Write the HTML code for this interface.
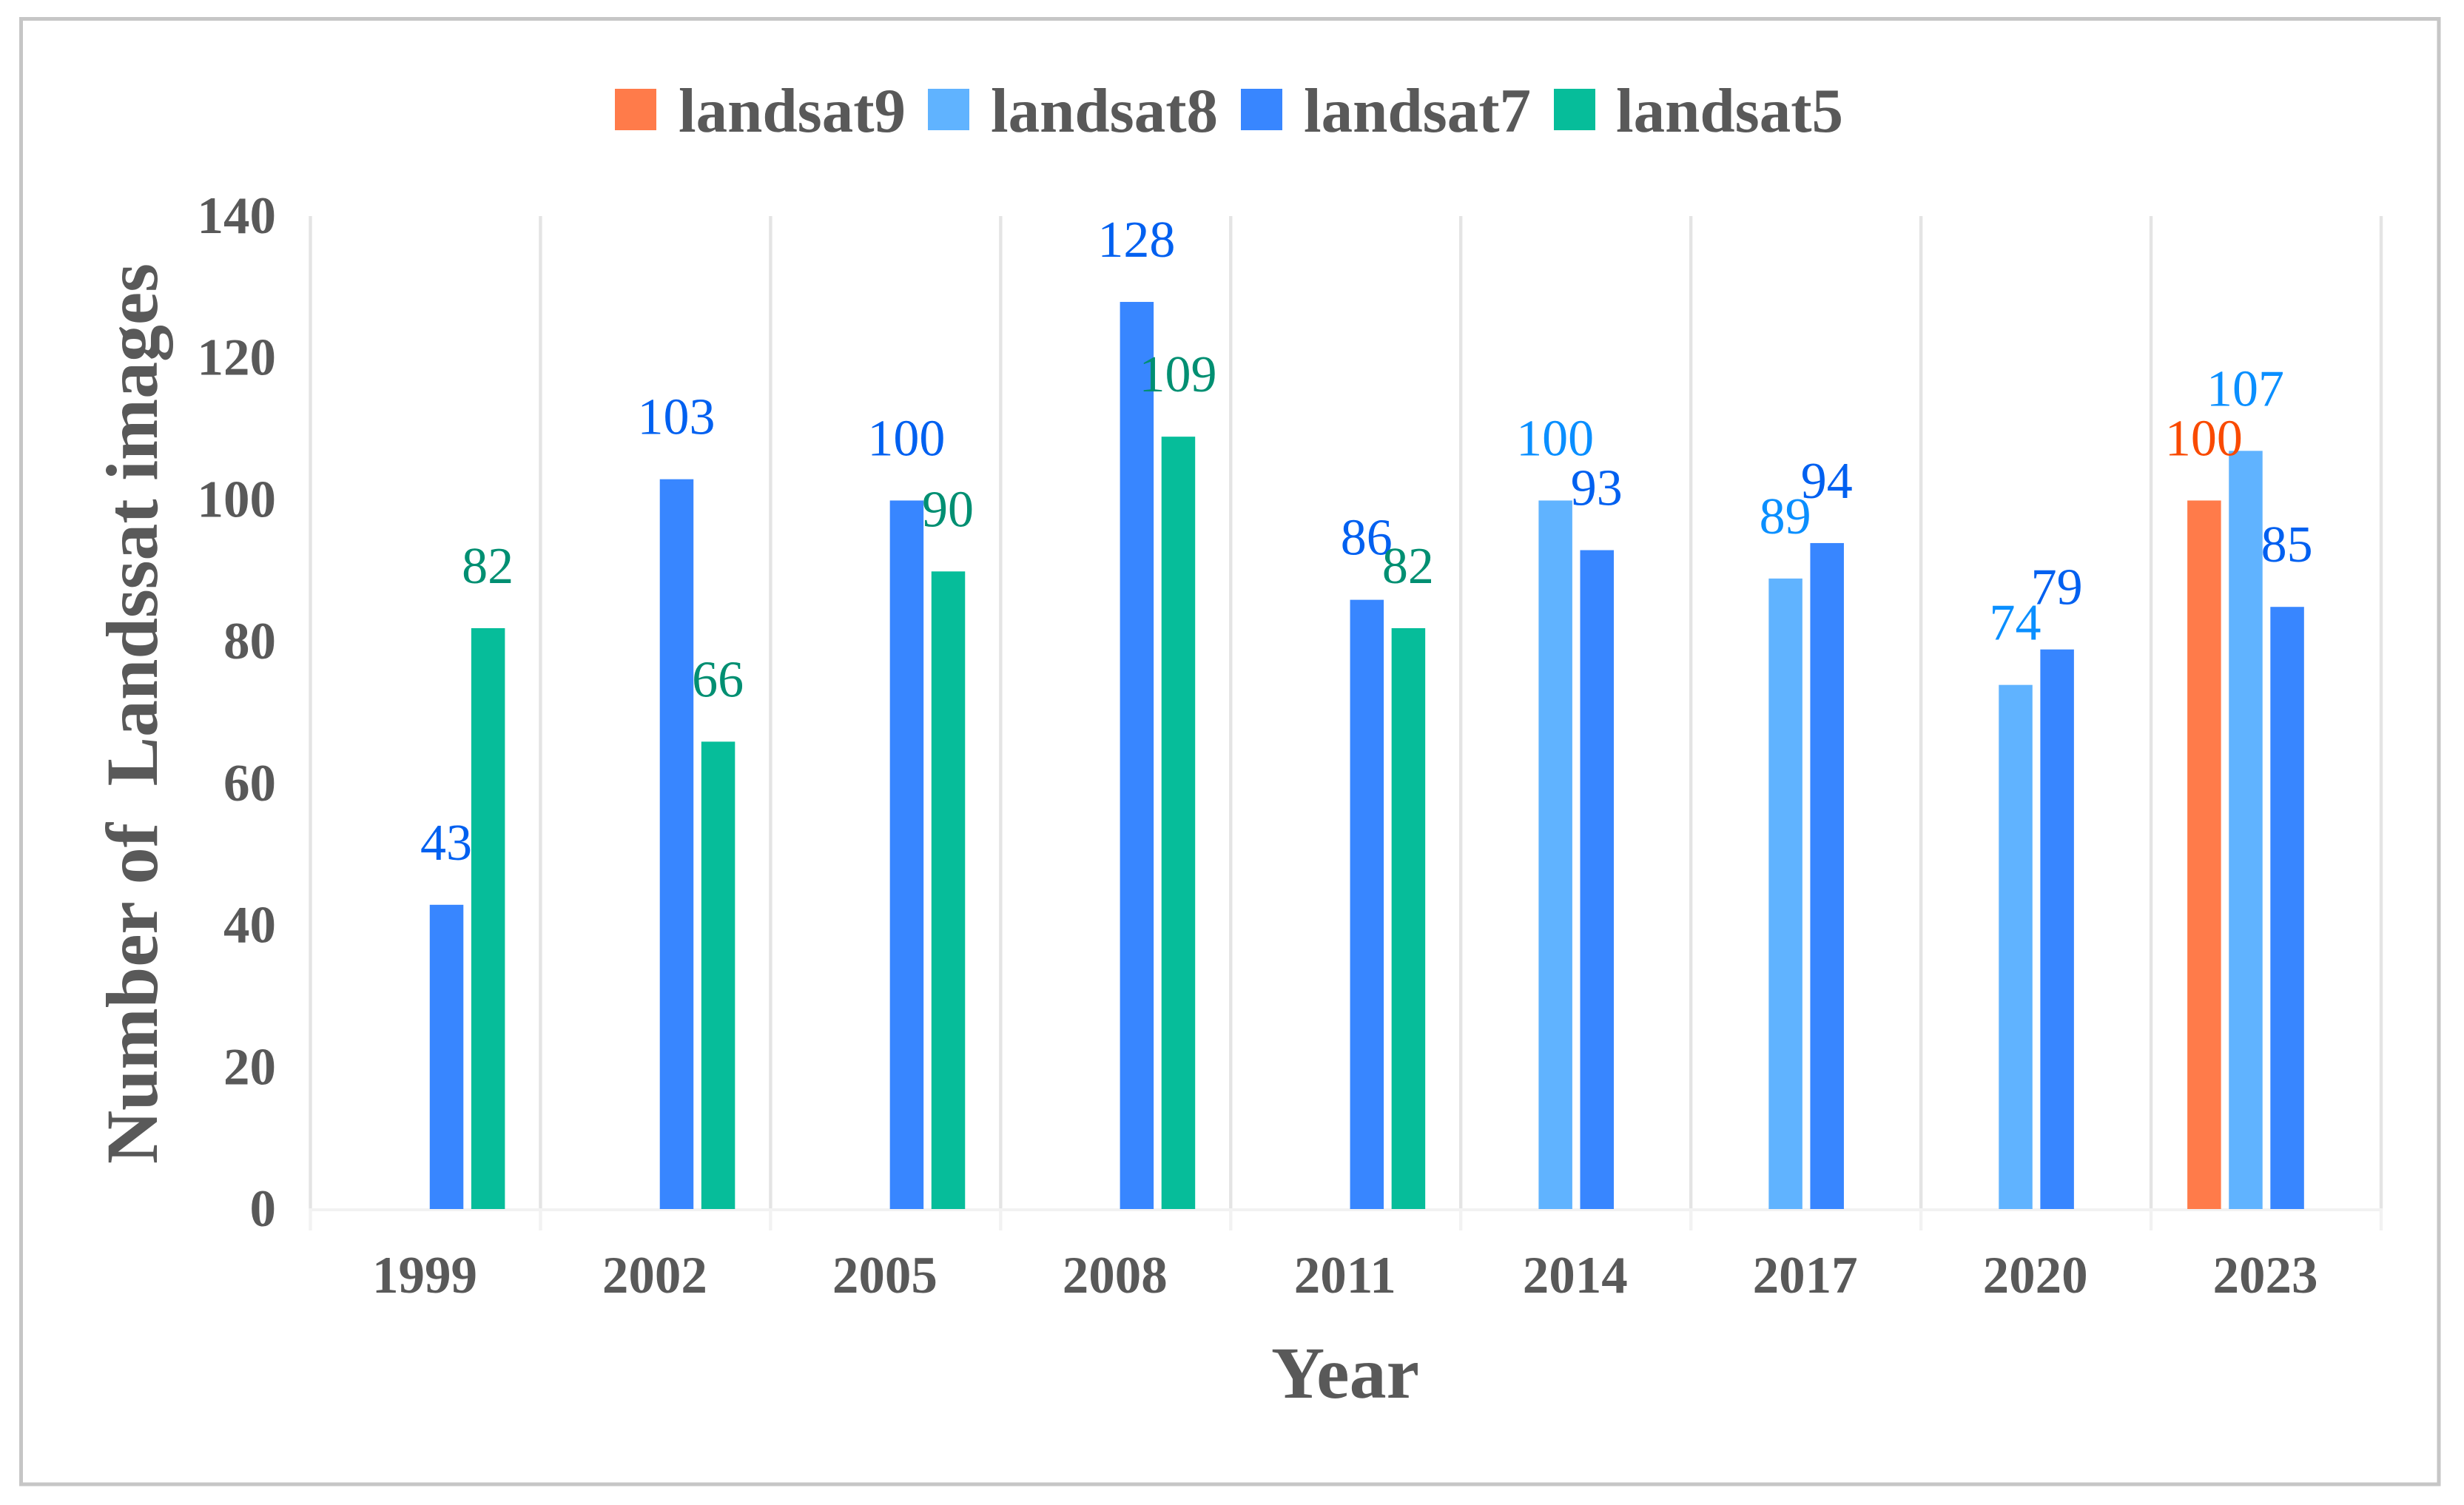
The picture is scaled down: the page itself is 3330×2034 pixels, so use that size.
<!DOCTYPE html>
<html lang="en">
<head>
<meta charset="utf-8">
<title>Number of Landsat images by year</title>
<style>
html,body{margin:0;padding:0;background:#fff;width:3330px;height:2034px;overflow:hidden}
svg{display:block}
text{font-family:"Liberation Serif",serif}
.tick{font-size:71px;font-weight:bold;fill:#595959}
.legend-text{font-size:85px;font-weight:bold;fill:#595959}
.title{font-size:100px;font-weight:bold;fill:#595959}
.value{font-size:70px}
</style>
</head>
<body>
<svg id="chart" xmlns="http://www.w3.org/2000/svg" width="3330" height="2034" viewBox="0 0 3330 2034">
  <rect x="28.5" y="25.5" width="3267.5" height="1980.5" fill="#fff" stroke="#c6c6c6" stroke-width="5"/>
  <g id="grid"></g>
  <g id="yticks"></g>
  <g id="xticks"></g>
  <g id="bars"></g>
  <g id="values"></g>
  <g>
    <rect x="831" y="120" width="56" height="56" fill="#ff7b4a"/>
    <text class="legend-text" x="917" y="178">landsat9</text>
    <rect x="1254" y="120" width="56" height="56" fill="#60b3ff"/>
    <text class="legend-text" x="1339" y="178">landsat8</text>
    <rect x="1677" y="120" width="56" height="56" fill="#3886ff"/>
    <text class="legend-text" x="1762" y="178">landsat7</text>
    <rect x="2100" y="120" width="56" height="56" fill="#06bd9a"/>
    <text class="legend-text" x="2184" y="178">landsat5</text>
  </g>
  <text class="title" xml:space="preserve" style="white-space:pre" transform="translate(212,1573) rotate(-90)" x="0" y="0" textLength="1217" lengthAdjust="spacing">Number of  Landssat images</text>
  <text class="title" x="1818" y="1889" text-anchor="middle">Year</text>
</svg>
<script>
const categories = ['1999','2002','2005','2008','2011','2014','2017','2020','2023'];
const landsat9 = [null,null,null,null,null,null,null,null,100];
const landsat8 = [null,null,null,null,null,100,89,74,107];
const landsat7 = [43,103,100,128,86,93,94,79,85];
const landsat5 = [82,66,90,109,82,null,null,null,null];
const yTickLabels = [0,20,40,60,80,100,120,140];

const svgNS = 'http://www.w3.org/2000/svg';
const plotLeft = 419.5, plotRight = 3218, plotTop = 292, plotBottom = 1634, yMax = 140;
const series = [
  {name:'landsat9', values:landsat9, fill:'#ff7b4a', text:'#f94a00'},
  {name:'landsat8', values:landsat8, fill:'#60b3ff', text:'#0a8fff'},
  {name:'landsat7', values:landsat7, fill:'#3886ff', text:'#0060f0'},
  {name:'landsat5', values:landsat5, fill:'#06bd9a', text:'#008f72'}
];
const barWidth = 45.5, barGap = 10.6;
const catWidth = (plotRight - plotLeft) / categories.length;
function yScale(v){ return plotBottom - (v / yMax) * (plotBottom - plotTop); }
function catStart(i){ return plotLeft + catWidth * i; }
function barX(i, s){
  const total = series.length * barWidth + (series.length - 1) * barGap;
  return catStart(i) + catWidth / 2 - total / 2 + s * (barWidth + barGap);
}
const grid = document.getElementById('grid');
const yticks = document.getElementById('yticks');
const xticks = document.getElementById('xticks');
const bars = document.getElementById('bars');
const valuesGroup = document.getElementById('values');

for (let i = 0; i <= categories.length; i++) {
  const x = catStart(i);
  const upper = document.createElementNS(svgNS, 'rect');
  
  
  upper.setAttribute('x', x - 2.2);
  upper.setAttribute('y', plotTop);
  upper.setAttribute('width', 4.4);
  upper.setAttribute('height', plotBottom - plotTop);
  upper.setAttribute('fill', '#e4e4e4');
  grid.appendChild(upper);
  const lower = document.createElementNS(svgNS, 'rect');
  
  
  lower.setAttribute('x', x - 2.2);
  lower.setAttribute('y', plotBottom);
  lower.setAttribute('width', 4.4);
  lower.setAttribute('height', 29);
  lower.setAttribute('fill', '#f2f2f2');
  grid.appendChild(lower);
}
const axisLine = document.createElementNS(svgNS, 'rect');


axisLine.setAttribute('x', plotLeft - 2);
axisLine.setAttribute('y', plotBottom - 1);
axisLine.setAttribute('width', plotRight - plotLeft + 4);
axisLine.setAttribute('height', 4);
axisLine.setAttribute('fill', '#f2f2f2');
grid.appendChild(axisLine);

yTickLabels.forEach(function (v) {
  const t = document.createElementNS(svgNS, 'text');
  
  
  t.setAttribute('class', 'tick');
  t.setAttribute('x', 373);
  t.setAttribute('y', yScale(v) + 23);
  t.setAttribute('text-anchor', 'end');
  t.textContent = v;
  yticks.appendChild(t);
});

categories.forEach(function (c, i) {
  const t = document.createElementNS(svgNS, 'text');
  
  
  t.setAttribute('class', 'tick');
  t.setAttribute('x', catStart(i) + catWidth / 2 - 1);
  t.setAttribute('y', 1747);
  t.setAttribute('text-anchor', 'middle');
  t.textContent = c;
  xticks.appendChild(t);
});

series.forEach(function (s, si) {
  s.values.forEach(function (v, i) {
    if (v === null) return;
    const r = document.createElementNS(svgNS, 'rect');
    
    
    r.setAttribute('x', barX(i, si) + 0.5);
    r.setAttribute('y', yScale(v) + 1);
    r.setAttribute('width', barWidth);
    r.setAttribute('height', plotBottom - yScale(v) - 1);
    r.setAttribute('fill', s.fill);
    bars.appendChild(r);
    const t = document.createElementNS(svgNS, 'text');
    
    
    t.setAttribute('class', 'value');
    t.setAttribute('x', barX(i, si) + barWidth / 2);
    t.setAttribute('y', yScale(v) - 60);
    t.setAttribute('text-anchor', 'middle');
    t.setAttribute('fill', s.text);
    t.textContent = v;
    valuesGroup.appendChild(t);
  });
});
</script>
</body>
</html>
